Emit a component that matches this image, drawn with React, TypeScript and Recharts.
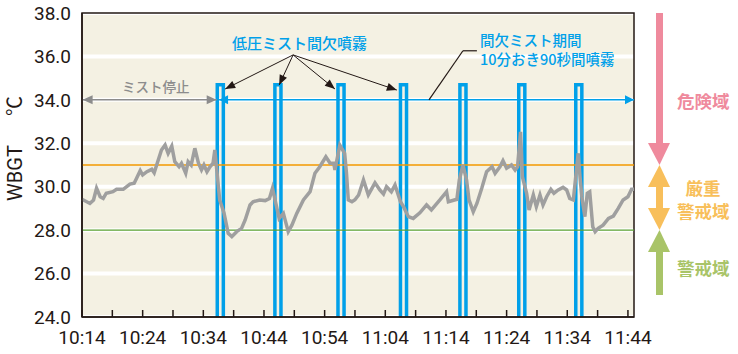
import React from 'react';
import { ComposedChart, Line, XAxis, YAxis, CartesianGrid, ReferenceLine, ReferenceArea } from 'recharts';

// minutes after 10:14
const minutes = [
  0, 1.3, 1.9, 2.4, 3.0, 3.5, 4.0, 5.1, 5.7, 6.8, 7.9, 8.6, 9.0, 9.6, 10.0, 10.7, 11.5, 11.9, 12.4, 13.1,
  13.7, 14.2, 14.8, 15.3, 16.0, 16.4, 17.1, 17.5, 18.0, 18.6, 19.2, 19.7, 20.1, 20.6, 21.1, 21.6, 21.9, 22.7,
  23.4, 24.1, 24.7, 25.5, 26.3, 26.9, 27.7, 28.2, 29.3, 30.2, 30.9, 31.4, 32.5, 33.2, 34.0, 34.6, 35.4, 36.5,
  37.6, 38.4, 39.2, 40.2, 40.9, 41.5, 41.7, 42.5, 43.3, 43.6, 43.9, 44.5, 45.0, 45.6, 46.4, 47.2, 48.3, 49.1,
  49.7, 50.2, 51.0, 51.6, 52.5, 53.0, 53.8, 54.6, 55.7, 56.8, 57.6, 59.0, 60.1, 60.4, 61.8, 62.2, 62.8, 63.4,
  63.8, 64.5, 65.1, 65.9, 66.7, 67.6, 68.1, 68.9, 69.4, 70.0, 70.8, 71.4, 71.8, 72.3, 72.6, 73.3, 73.7, 74.4,
  74.9, 75.5, 76.0, 76.6, 77.3, 77.8, 78.5, 79.3, 79.9, 80.4, 81.0, 81.8, 82.1, 82.4, 82.9, 83.3, 83.7, 84.2,
  84.6, 85.1, 85.9, 86.8, 87.6, 88.4, 89.2, 90.0, 90.6, 91.0,
];
const wbgt = [
  29.42, 29.23, 29.39, 29.93, 29.54, 29.46, 29.7, 29.77, 29.88, 29.88, 30.12, 30.16, 30.39, 30.74, 30.54, 30.69, 30.8, 30.64, 31.08, 31.69,
  31.92, 31.54, 31.87, 31.15, 30.92, 31.08, 30.62, 31.15, 31.0, 31.77, 31.08, 30.77, 31.0, 30.69, 30.92, 31.08, 31.69, 29.39,
  28.8, 27.85, 27.7, 27.93, 28.08, 28.47, 29.16, 29.31, 29.39, 29.36, 29.46, 29.93, 28.54, 28.77, 27.93, 28.23, 28.77, 29.39,
  29.77, 30.62, 30.92, 31.38, 31.08, 31.08, 30.77, 31.92, 31.54, 30.62, 29.39, 29.31, 29.4, 29.62, 30.31, 29.62, 30.18, 29.85,
  29.66, 30.0, 29.77, 30.08, 29.31, 29.08, 28.62, 28.54, 28.8, 29.16, 28.93, 29.39, 29.77, 29.31, 29.42, 30.31, 31.0, 30.31,
  29.39, 28.85, 29.23, 29.93, 30.69, 30.92, 30.62, 30.92, 31.2, 30.85, 31.0, 30.77, 30.92, 32.53, 30.46, 29.7, 28.93, 29.62,
  29.08, 29.62, 29.16, 29.54, 29.88, 29.7, 29.85, 29.97, 29.85, 29.46, 29.39, 31.54, 30.46, 29.54, 28.62, 29.7, 29.77, 28.16,
  27.93, 28.08, 28.23, 28.54, 28.65, 29.0, 29.39, 29.54, 29.88, 29.88,
];

// 90-second low pressure mist bursts (start minute)
const mistStarts = [22.3, 31.8, 42.2, 52.5, 62.3, 72.0, 81.4];
const mistLength = 1.0;
const mistTop = 34.7;

const xTicks = [0, 5, 10, 15, 20, 25, 30, 35, 40, 45, 50, 55, 60, 65, 70, 75, 80, 85, 90];
const yTicks = [24, 26, 28, 30, 32, 34, 36, 38];

// annotation arrows (data coords)
const callOrigin = { x: 34.8, y: 36.07 };
const callTargets = [
  { x: 23.6, y: 34.5 },
  { x: 32.5, y: 34.68 },
  { x: 41.7, y: 34.5 },
  { x: 51.9, y: 34.45 },
];

const data = minutes.map((t, i) => ({ t, v: wbgt[i] }));

const fmtTime = (t: number) => {
  if (t % 10 !== 0) return '';
  const total = 10 * 60 + 14 + t;
  const h = Math.floor(total / 60);
  const m = total % 60;
  return `${h}:${m < 10 ? '0' : ''}${m}`;
};

const head = (tx: number, ty: number, dx: number, dy: number, len: number, w: number) => {
  const d = Math.sqrt(dx * dx + dy * dy) || 1;
  const ux = dx / d, uy = dy / d;
  const bx = tx - ux * len, by = ty - uy * len;
  return `${tx},${ty} ${bx - uy * w / 2},${by + ux * w / 2} ${bx + uy * w / 2},${by - ux * w / 2}`;
};

const arrow = (color: string, width: number, start: boolean, end: boolean, len = 9, w = 7) => (p: any) => {
  const { x1, y1, x2, y2 } = p;
  const dx = x2 - x1, dy = y2 - y1;
  return (
    <g>
      <line x1={x1} y1={y1} x2={x2} y2={y2} stroke={color} strokeWidth={width} />
      {end && <polygon points={head(x2, y2, dx, dy, len, w)} fill={color} />}
      {start && <polygon points={head(x1, y1, -dx, -dy, len, w)} fill={color} />}
    </g>
  );
};

const mistShape = (p: any) => {
  const { x, y, width, height } = p;
  return (
    <path
      d={`M${x},${y + height} L${x},${y} L${x + width},${y} L${x + width},${y + height}`}
      fill="none"
      stroke="#00a0e9"
      strokeWidth={3.5}
    />
  );
};

const blue = '#00a0e9';
const ink = '#231815';
const jp = '"Noto Sans CJK JP", sans-serif';

export default function App() {
  return (
    <div style={{ position: 'absolute', left: 0, top: 0, width: 738, height: 354, background: '#fff' }}>
      <ComposedChart width={738} height={354} data={data} margin={{ top: 13, right: 104, bottom: 0, left: 0 }}>
        <CartesianGrid vertical={false} fill="#f4f1e3" stroke="#ffffff" strokeWidth={4} />
        <XAxis
          dataKey="t"
          type="number"
          domain={[0, 91]}
          ticks={xTicks}
          tickFormatter={fmtTime}
          interval={0}
          height={37}
          tickSize={-7}
          tickMargin={21}
          stroke={ink}
          strokeWidth={1.5}
          tick={{ fill: ink, fontSize: 19, fontFamily: 'Roboto' }}
        />
        <YAxis
          type="number"
          domain={[24, 38]}
          ticks={yTicks}
          tickFormatter={(v: number) => v.toFixed(1)}
          width={82}
          tickLine={false}
          tickSize={0}
          tickMargin={11}
          stroke={ink}
          strokeWidth={1.5}
          tick={{ fill: ink, fontSize: 19, fontFamily: 'Roboto' }}
        />
        <ReferenceLine y={31} stroke="#f39800" strokeWidth={1.3} />
        <ReferenceLine y={28} stroke="#5ba232" strokeWidth={1.3} />
        <Line
          dataKey="v"
          type="linear"
          stroke="#9f9f9f"
          strokeWidth={3.5}
          dot={false}
          isAnimationActive={false}
        />
        {mistStarts.map((s, i) => (
          <ReferenceArea key={`m${i}`} x1={s} x2={s + mistLength} y1={24} y2={mistTop} shape={mistShape} />
        ))}
        <ReferenceLine segment={[{ x: 0.1, y: 34 }, { x: 22.2, y: 34 }]} shape={arrow('#8c8c8c', 1.5, true, true, 10, 9)} />
        <ReferenceLine segment={[{ x: 22.6, y: 34 }, { x: 91, y: 34 }]} shape={arrow(blue, 1.5, true, true, 9, 9)} />
        {callTargets.map((c, i) => (
          <ReferenceLine key={`c${i}`} segment={[callOrigin, c]} shape={arrow(ink, 1, false, true, 10, 8)} />
        ))}
        <ReferenceLine segment={[{ x: 57.2, y: 34 }, { x: 62.8, y: 36.26 }]} shape={arrow(ink, 1.2, false, false)} />
        <ReferenceLine segment={[{ x: 62.8, y: 36.26 }, { x: 65.1, y: 36.26 }]} shape={arrow(ink, 1.2, false, false)} />
        <ReferenceArea x1={0} x2={91} y1={24} y2={38} fill="none" stroke={ink} strokeWidth={1.5} />
      </ComposedChart>
      <svg width={738} height={354} style={{ position: 'absolute', left: 0, top: 0, pointerEvents: 'none' }}>
        <text x={232} y={48.5} fontSize={15} fill={blue} fontFamily={jp} fontWeight={500}>低圧ミスト間欠噴霧</text>
        <text x={480} y={46} fontSize={14.5} fill={blue} fontFamily={jp} fontWeight={500}>間欠ミスト期間</text>
        <text x={480} y={65} fontSize={14.5} fill={blue} fontFamily={jp} fontWeight={500}>10分おき90秒間噴霧</text>
        <text x={122} y={92} fontSize={13.5} fill="#8c8c8c" fontFamily={jp} fontWeight={500}>ミスト停止</text>
        <text transform="translate(22,173) rotate(-90)" textAnchor="middle" fontSize={20} fill={ink} fontFamily="Roboto">WBGT</text>
        <text transform="translate(22,106) rotate(-90)" textAnchor="middle" fontSize={20} fill={ink} fontFamily={jp}>℃</text>
        {/* right side zone arrows */}
        <rect x={656} y={13} width={7} height={132} fill="#ef8a9d" />
        <polygon points="648,143 670,143 659.5,165" fill="#ef8a9d" />
        <polygon points="648,187 670,187 659.5,165" fill="#f8bf5b" />
        <rect x={656} y={186} width={7} height={23} fill="#f8bf5b" />
        <polygon points="648,208 670,208 659.5,230" fill="#f8bf5b" />
        <polygon points="648,252 670,252 659.5,230" fill="#a9c468" />
        <rect x={656} y={251} width={7} height={44} fill="#a9c468" />
        <text x={677} y={108} fontSize={17.5} fill="#ef8a9d" fontFamily={jp} fontWeight={700}>危険域</text>
        <text x={703} y={195} textAnchor="middle" fontSize={17.5} fill="#f8bf5b" fontFamily={jp} fontWeight={700}>厳重</text>
        <text x={677} y={218} fontSize={17.5} fill="#f8bf5b" fontFamily={jp} fontWeight={700}>警戒域</text>
        <text x={677} y={275} fontSize={17.5} fill="#a9c468" fontFamily={jp} fontWeight={700}>警戒域</text>
      </svg>
    </div>
  );
}
